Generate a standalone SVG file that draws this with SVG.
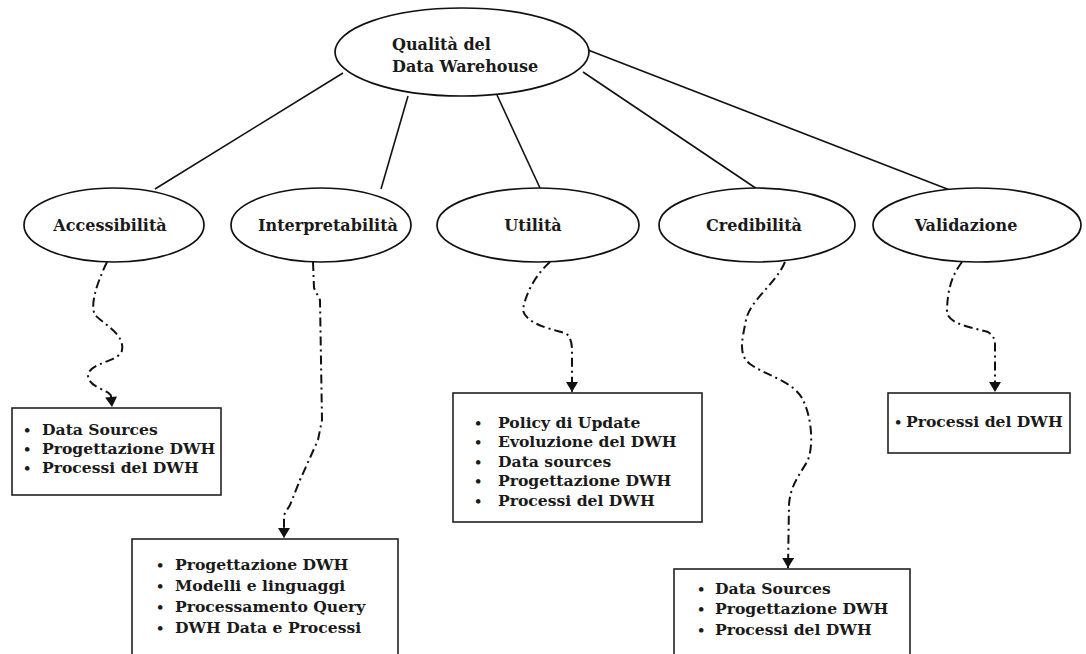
<svg xmlns="http://www.w3.org/2000/svg" width="1086" height="654" viewBox="0 0 1086 654">
  <style>
    .node ellipse { fill: #ffffff; stroke: #111111; stroke-width: 1.7; }
    .box rect { fill: #ffffff; stroke: #222222; stroke-width: 1.6; }
    .label { font-family: "DejaVu Serif", "Liberation Serif", serif; font-weight: bold; font-size: 16px; fill: #1a1a1a; }
    .item { font-family: "DejaVu Serif", "Liberation Serif", serif; font-weight: bold; font-size: 15.6px; fill: #1a1a1a; }
    .dot { font-family: "DejaVu Serif", "Liberation Serif", serif; font-weight: bold; font-size: 13px; fill: #1a1a1a; }
    .tree line { stroke: #111111; stroke-width: 1.6; }
    .flow path { fill: none; stroke: #111111; stroke-width: 2; stroke-dasharray: 9 4 2 4; }
  </style>
  <defs>
    <marker id="arrow" viewBox="0 0 10 12" refX="10" refY="6" markerWidth="11" markerHeight="12" markerUnits="userSpaceOnUse" orient="auto">
      <path d="M0,0 L10,6 L0,12 Z" fill="#111111"/>
    </marker>
  </defs>
  <rect width="1086" height="654" fill="#ffffff"/>

  <!-- solid branches from the root -->
  <g id="connectors">
    <g class="tree">
      <line x1="343" y1="73" x2="155" y2="189"/>
      <line x1="408" y1="96" x2="381" y2="189"/>
      <line x1="497" y1="95" x2="540" y2="188"/>
      <line x1="583" y1="72" x2="757" y2="189"/>
      <line x1="588" y1="50" x2="955" y2="192"/>
    </g>
    <!-- dash-dot links to the lists -->
    <g class="flow">
      <path marker-end="url(#arrow)" d="M107,262 C 96,285 90,305 95,315 C 105,325 125,335 122,350 C 120,362 90,362 88,375 C 88,388 110,390 111,396 L 112,407"/>
      <path marker-end="url(#arrow)" d="M313,262 L314,288 L320,300 L322,420 L318,440 L300,480 L290,505 L284,515 L284,538"/>
      <path marker-end="url(#arrow)" d="M550,262 C 535,275 525,295 523,310 C 525,322 545,328 565,333 C 571,336 572,345 572,350 L572,392"/>
      <path marker-end="url(#arrow)" d="M785,262 C 775,285 750,300 746,320 C 742,340 738,355 750,364 C 765,375 795,382 803,400 C 812,418 814,448 807,462 C 797,478 790,488 789,505 L788,568"/>
      <path marker-end="url(#arrow)" d="M962,262 C 952,275 947,290 947,313 C 950,325 975,328 988,332 C 994,336 995,340 995,345 L995,392"/>
    </g>
  </g>

  <g id="root" class="node">
    <ellipse cx="462" cy="52" rx="127" ry="44"/>
    <text class="label" x="392" y="50">Qualità del</text>
    <text class="label" x="392" y="72">Data Warehouse</text>
  </g>

  <g id="accessibilita" class="node">
    <ellipse cx="114" cy="225" rx="90" ry="37"/>
    <text class="label" x="110" y="231" text-anchor="middle">Accessibilità</text>
  </g>
  <g id="interpretabilita" class="node">
    <ellipse cx="321" cy="225" rx="90" ry="37"/>
    <text class="label" x="328" y="231" text-anchor="middle">Interpretabilità</text>
  </g>
  <g id="utilita" class="node">
    <ellipse cx="538" cy="225" rx="101" ry="37"/>
    <text class="label" x="533" y="231" text-anchor="middle">Utilità</text>
  </g>
  <g id="credibilita" class="node">
    <ellipse cx="757" cy="225" rx="98" ry="37"/>
    <text class="label" x="754" y="231" text-anchor="middle">Credibilità</text>
  </g>
  <g id="validazione" class="node">
    <ellipse cx="977" cy="225" rx="104" ry="37"/>
    <text class="label" x="966" y="231" text-anchor="middle">Validazione</text>
  </g>

  <g id="box-accessibilita" class="box">
    <rect x="12" y="408" width="209" height="87"/>
    <text class="dot" x="23" y="435">•</text><text class="item" x="42" y="435">Data Sources</text>
    <text class="dot" x="23" y="454">•</text><text class="item" x="42" y="454">Progettazione DWH</text>
    <text class="dot" x="23" y="473">•</text><text class="item" x="42" y="473">Processi del DWH</text>
  </g>

  <g id="box-interpretabilita" class="box">
    <rect x="132" y="539" width="266" height="130"/>
    <text class="dot" x="156" y="570">•</text><text class="item" x="175" y="570">Progettazione DWH</text>
    <text class="dot" x="156" y="591">•</text><text class="item" x="175" y="591">Modelli e linguaggi</text>
    <text class="dot" x="156" y="612">•</text><text class="item" x="175" y="612">Processamento Query</text>
    <text class="dot" x="156" y="633">•</text><text class="item" x="175" y="633">DWH Data e Processi</text>
  </g>

  <g id="box-utilita" class="box">
    <rect x="453" y="393" width="249" height="129"/>
    <text class="dot" x="474" y="428">•</text><text class="item" x="498" y="428">Policy di Update</text>
    <text class="dot" x="474" y="447">•</text><text class="item" x="498" y="447">Evoluzione del DWH</text>
    <text class="dot" x="474" y="467">•</text><text class="item" x="498" y="467">Data sources</text>
    <text class="dot" x="474" y="486">•</text><text class="item" x="498" y="486">Progettazione DWH</text>
    <text class="dot" x="474" y="506">•</text><text class="item" x="498" y="506">Processi del DWH</text>
  </g>

  <g id="box-credibilita" class="box">
    <rect x="674" y="569" width="236" height="100"/>
    <text class="dot" x="697" y="594">•</text><text class="item" x="715" y="594">Data Sources</text>
    <text class="dot" x="697" y="614">•</text><text class="item" x="715" y="614">Progettazione DWH</text>
    <text class="dot" x="697" y="635">•</text><text class="item" x="715" y="635">Processi del DWH</text>
  </g>

  <g id="box-validazione" class="box">
    <rect x="888" y="393" width="182" height="60"/>
    <text class="dot" x="894" y="427">•</text><text class="item" x="906" y="427">Processi del DWH</text>
  </g>
</svg>
